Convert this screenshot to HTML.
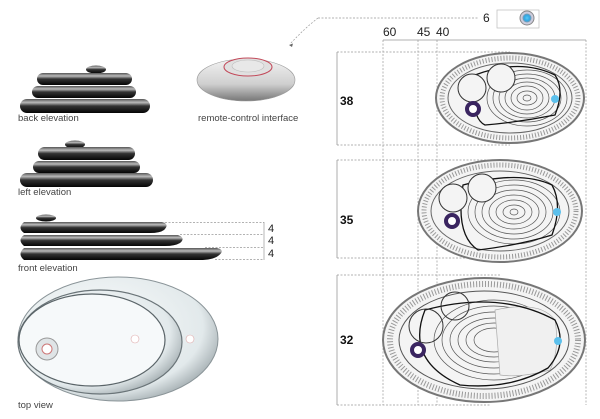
<!DOCTYPE html>
<html><head><meta charset="utf-8"><style>
html,body{margin:0;padding:0;background:#fff;}
svg{display:block;font-family:"Liberation Sans",sans-serif;}
</style></head><body>
<svg width="600" height="419" viewBox="0 0 600 419" xmlns="http://www.w3.org/2000/svg">
<defs>
<linearGradient id="pill" x1="0" y1="0" x2="0" y2="1">
<stop offset="0" stop-color="#555"/><stop offset="0.25" stop-color="#bbb"/><stop offset="0.5" stop-color="#333"/><stop offset="1" stop-color="#050505"/></linearGradient>
<linearGradient id="rem" x1="0" y1="0" x2="0" y2="1">
<stop offset="0" stop-color="#f2f2f2"/><stop offset="0.6" stop-color="#cfcfcf"/><stop offset="1" stop-color="#777"/></linearGradient>
<radialGradient id="tv" cx="0.4" cy="0.4" r="0.7"><stop offset="0" stop-color="#fbfdfd"/><stop offset="0.75" stop-color="#e2e9eb"/><stop offset="1" stop-color="#8f9a9e"/></radialGradient>
<radialGradient id="blue"><stop offset="0" stop-color="#5cc8f2"/><stop offset="0.6" stop-color="#2fa8e6"/><stop offset="1" stop-color="#8899aa"/></radialGradient>
</defs>
<g fill="url(#pill)">
<ellipse cx="96" cy="69.5" rx="10" ry="4"/>
<rect x="37" y="73" width="95" height="12" rx="6"/>
<rect x="32" y="86" width="104" height="12" rx="6"/>
<rect x="20" y="99" width="130" height="14" rx="7"/>
<ellipse cx="75" cy="144.5" rx="10" ry="4"/>
<rect x="38" y="147" width="97" height="13" rx="6.5"/>
<rect x="33" y="161" width="107" height="12" rx="6"/>
<rect x="20" y="173" width="133" height="14" rx="7"/>
<ellipse cx="46" cy="218" rx="10" ry="3.5"/>
<path d="M24 222 H162 Q170 224 164 230 Q160 233 150 233 H24 Q17 228 24 222Z"/>
<path d="M24 235 H178 Q186 238 180 243 Q175 246 165 246 H24 Q17 240 24 235Z"/>
<path d="M24 248 H217 Q226 250 218 256 Q212 260 200 260 H24 Q17 254 24 248Z"/>
</g>
<ellipse cx="246" cy="80" rx="49" ry="21" fill="url(#rem)" stroke="#999" stroke-width="0.6"/>
<ellipse cx="248" cy="67" rx="24" ry="9" fill="#e0e0e0" stroke="#c24a5a" stroke-width="1"/>
<ellipse cx="248" cy="66" rx="16" ry="6" fill="#e8e8e8" stroke="#bbb" stroke-width="0.6"/>
<g font-size="9.5" fill="#444">
<text x="18" y="121">back elevation</text>
<text x="198" y="121">remote-control interface</text>
<text x="18" y="195">left elevation</text>
<text x="18" y="271">front elevation</text>
<text x="18" y="408">top view</text>
</g>
<g stroke="#999" stroke-width="0.7" stroke-dasharray="2,1.5" fill="none">
<path d="M165 222.5H264M180 234.5H264M205 247.5H264M215 259.5H264"/>
</g>
<path d="M264 222V260" stroke="#999" stroke-width="0.7"/>
<g font-size="11" fill="#222"><text x="268" y="232">4</text><text x="268" y="244">4</text><text x="268" y="257">4</text></g>
<ellipse cx="118" cy="339" rx="100" ry="62" fill="url(#tv)" stroke="#8a9498" stroke-width="1"/>
<ellipse cx="100" cy="342" rx="82" ry="52" fill="url(#tv)" stroke="#6a7478" stroke-width="1.2"/>
<ellipse cx="92" cy="340" rx="73" ry="46" fill="#f6f9fa" stroke="#5a6468" stroke-width="1.2"/>
<circle cx="47" cy="349" r="11" fill="#dfe4e6" stroke="#999"/>
<circle cx="47" cy="349" r="5" fill="#fff" stroke="#c77"/>
<circle cx="135" cy="339" r="4" fill="#fff" stroke="#daa" stroke-width="0.6"/>
<circle cx="190" cy="339" r="4" fill="#fff" stroke="#daa" stroke-width="0.6"/>
<g stroke="#999" stroke-width="0.7" stroke-dasharray="2,1.5" fill="none">
<path d="M318 18H478"/>
<path d="M318 18Q305 28 290 44"/>
<path d="M383 40V405M418 40V405M437 40V405M586 40V405"/>
<path d="M337 52H510M337 145H510M337 160H500M337 258H500M337 275H500M337 405H490"/>
</g>
<path d="M289 45l4 -1.5l-1 3.5z" fill="#666"/>
<path d="M383 40H586M337 52V145M337 160V258M337 275V405" stroke="#999" stroke-width="0.8" fill="none"/>
<rect x="497" y="10" width="42" height="18" fill="#fff" stroke="#bbb" stroke-width="0.7"/>
<circle cx="527" cy="18" r="7" fill="#ccd" stroke="#888"/>
<circle cx="527" cy="18" r="4.5" fill="url(#blue)"/>
<g font-size="12" fill="#222">
<text x="483" y="22">6</text>
<text x="383" y="36">60</text><text x="417" y="36">45</text><text x="436" y="36">40</text>
</g>
<g font-size="12" font-weight="bold" fill="#111">
<text x="340" y="105">38</text><text x="340" y="224">35</text><text x="340" y="344">32</text>
</g>
<g fill="none">
<g>
<ellipse cx="510" cy="98" rx="74" ry="45" fill="#f4f4f4" stroke="#777" stroke-width="2"/>
<ellipse cx="510" cy="98" rx="68" ry="40" stroke="#999" stroke-width="5" stroke-dasharray="1,2"/>
<ellipse cx="510" cy="98" rx="62" ry="35" stroke="#666" stroke-width="1"/>
<g stroke="#555" stroke-width="0.7">
<ellipse cx="527" cy="98" rx="40" ry="28"/><ellipse cx="527" cy="98" rx="34" ry="24"/><ellipse cx="527" cy="98" rx="28" ry="20"/><ellipse cx="527" cy="98" rx="22" ry="16"/><ellipse cx="527" cy="98" rx="16" ry="12"/><ellipse cx="527" cy="98" rx="10" ry="7"/><ellipse cx="527" cy="98" rx="4" ry="3"/>
</g>
<path d="M475 75Q520 58 555 75Q565 90 555 115Q520 122 485 125Q470 118 475 75Z" stroke="#111" stroke-width="1.3"/>
<circle cx="501" cy="78" r="14" fill="#f4f4f4" stroke="#333"/>
<circle cx="472" cy="88" r="14" fill="#f4f4f4" stroke="#333"/>
<circle cx="473" cy="109" r="6" stroke="#3a2560" stroke-width="4" fill="#fff"/>
<circle cx="555" cy="99" r="4" fill="#5cc0ec"/>
</g>
<g>
<ellipse cx="500" cy="211" rx="82" ry="51" fill="#f4f4f4" stroke="#777" stroke-width="2"/>
<ellipse cx="500" cy="211" rx="76" ry="46" stroke="#999" stroke-width="5" stroke-dasharray="1,2"/>
<ellipse cx="500" cy="211" rx="69" ry="40" stroke="#666" stroke-width="1"/>
<g stroke="#555" stroke-width="0.7">
<ellipse cx="514" cy="212" rx="46" ry="32"/><ellipse cx="514" cy="212" rx="39" ry="27"/><ellipse cx="514" cy="212" rx="32" ry="22"/><ellipse cx="514" cy="212" rx="25" ry="17"/><ellipse cx="514" cy="212" rx="18" ry="12"/><ellipse cx="514" cy="212" rx="11" ry="7"/><ellipse cx="514" cy="212" rx="4" ry="3"/>
</g>
<path d="M463 185Q520 170 552 185Q563 205 552 235Q520 245 478 250Q455 235 463 185Z" stroke="#111" stroke-width="1.3"/>
<circle cx="482" cy="188" r="14" fill="#f4f4f4" stroke="#333"/>
<circle cx="453" cy="198" r="14" fill="#f4f4f4" stroke="#333"/>
<circle cx="452" cy="221" r="6" stroke="#3a2560" stroke-width="4" fill="#fff"/>
<circle cx="557" cy="212" r="4" fill="#5cc0ec"/>
</g>
<g>
<ellipse cx="484" cy="340" rx="101" ry="62" fill="#f4f4f4" stroke="#777" stroke-width="2"/>
<ellipse cx="484" cy="340" rx="94" ry="56" stroke="#999" stroke-width="6" stroke-dasharray="1,2"/>
<ellipse cx="484" cy="340" rx="85" ry="49" stroke="#555" stroke-width="1"/>
<g stroke="#555" stroke-width="0.7">
<ellipse cx="494" cy="340" rx="60" ry="40"/><ellipse cx="494" cy="340" rx="52" ry="34"/><ellipse cx="494" cy="340" rx="44" ry="28"/><ellipse cx="494" cy="340" rx="36" ry="22"/><ellipse cx="494" cy="340" rx="28" ry="17"/><ellipse cx="494" cy="340" rx="20" ry="12"/>
</g>
<path d="M495 310Q540 300 555 320Q560 350 550 370Q520 378 500 375Z" fill="#f0f0f0" stroke="#aaa" stroke-width="0.7"/>
<path d="M425 310Q500 290 555 320Q568 345 548 368Q510 390 460 385Q405 360 425 310Z" stroke="#111" stroke-width="1.3"/>
<circle cx="455" cy="306" r="14" fill="none" stroke="#333"/>
<circle cx="426" cy="326" r="17" fill="none" stroke="#333"/>
<circle cx="418" cy="350" r="6" stroke="#3a2560" stroke-width="4" fill="#fff"/>
<circle cx="558" cy="341" r="4" fill="#5cc0ec"/>
</g>
</g>
</svg>
</body></html>
